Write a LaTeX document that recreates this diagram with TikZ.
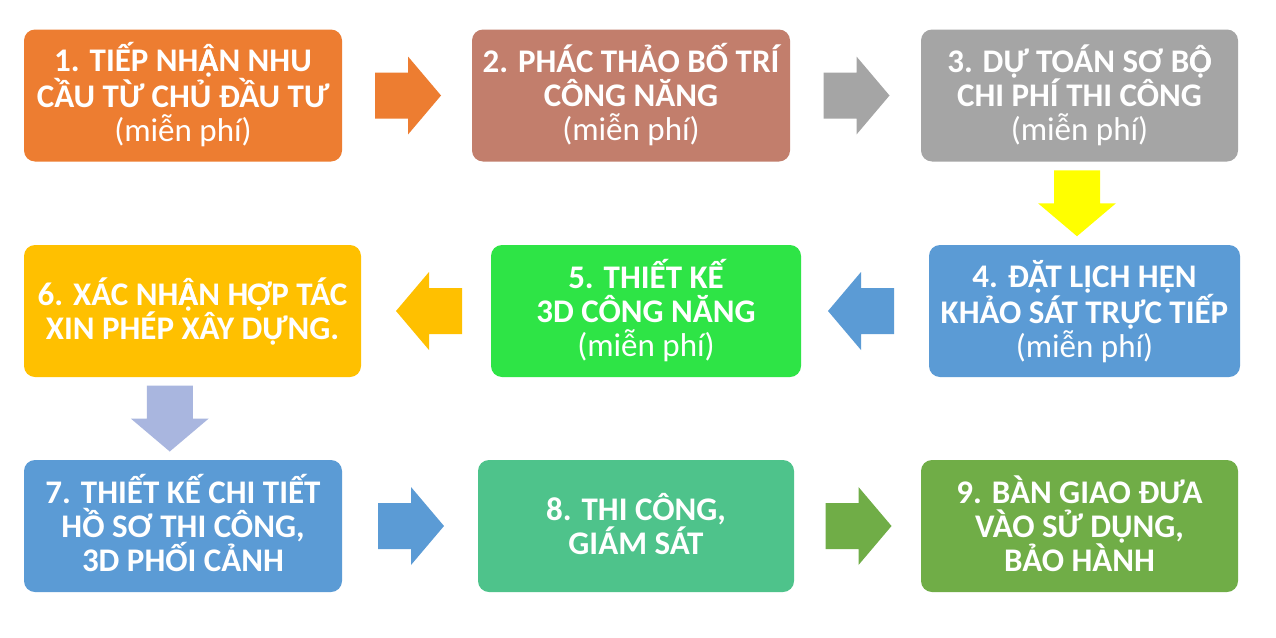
\documentclass[tikz,border=0pt]{standalone}
\usepackage{fontspec}
\setmainfont{Carlito}
\usetikzlibrary{calc}
\definecolor{cOrange}{HTML}{ED7D31}
\definecolor{cRose}{HTML}{C27E6C}
\definecolor{cGray}{HTML}{A5A5A5}
\definecolor{cBlue}{HTML}{5B9BD5}
\definecolor{cLime}{HTML}{2EE446}
\definecolor{cGold}{HTML}{FFC000}
\definecolor{cMint}{HTML}{4EC38B}
\definecolor{cGreen}{HTML}{70AD47}
\definecolor{cYellow}{HTML}{FFFF00}
\definecolor{cLav}{HTML}{A9B6DF}
\newcommand\blockarrow[3]{%
  \fill[#3, shift={(#1)}, rotate=#2]
    (-33,-23) -- (0,-23) -- (0,-39) -- (33,0) -- (0,39) -- (0,23) -- (-33,23) -- cycle;}
\newcommand\mytopstrut{\rule{0pt}{30pt}}
\newcommand\mybotstrut{\rule[-8pt]{0pt}{8pt}}
\newcommand\mienphi{\mdseries(miễn phí)}
% A/O with circumflex and dot below, stacked by hand
\newcommand\Acd{\rlap{Â}Ạ}
\newcommand\Ocd{\rlap{Ô}Ọ}
\begin{document}
\begin{tikzpicture}[x=1pt,y=-1pt,
  stepbox/.style={rounded corners=11pt, inner sep=0pt, minimum height=132pt,
    text=white, align=center, font=\bfseries\fontsize{33}{34}\selectfont}]
\useasboundingbox (0,0) rectangle (1276,637);
\fill[white] (0,0) rectangle (1276,637);
% row 1
\node[stepbox, fill=cOrange, minimum width=318pt] (b1) at (183,95.5)
  {\mytopstrut 1. TIẾP NH\Acd N NHU\\CẦU TỪ CHỦ ĐẦU TƯ\\\mienphi\mybotstrut};
\node[stepbox, fill=cRose, minimum width=318pt] (b2) at (631,95.5)
  {\mytopstrut 2. PHÁC THẢO BỐ TRÍ\\CÔNG NĂNG\\\mienphi\mybotstrut};
\node[stepbox, fill=cGray, minimum width=317pt] (b3) at (1079.5,95.5)
  {\mytopstrut 3. DỰ TOÁN SƠ B\Ocd\\CHI PHÍ THI CÔNG\\\mienphi\mybotstrut};
% row 2
\node[stepbox, fill=cBlue, minimum width=311pt] (b4) at (1084.5,311)
  {\mytopstrut 4. ĐẶT LỊCH HẸN\\KHẢO SÁT TRỰC TIẾP\\\mienphi\mybotstrut};
\node[stepbox, fill=cLime, minimum width=310pt] (b5) at (646,311)
  {\mytopstrut 5. THIẾT KẾ\\3D CÔNG NĂNG\\\mienphi\mybotstrut};
\node[stepbox, fill=cGold, minimum width=337pt] (b6) at (192.5,311)
  {\mytopstrut 6. XÁC NH\Acd N HỢP TÁC\\XIN PHÉP XÂY DỰNG.\mybotstrut};
% row 3
\node[stepbox, fill=cBlue, minimum width=318pt] (b7) at (183,526)
  {\mytopstrut 7. THIẾT KẾ CHI TIẾT\\HỒ SƠ THI CÔNG,\\3D PHỐI CẢNH\mybotstrut};
\node[stepbox, fill=cMint, minimum width=316pt] (b8) at (636,526)
  {\mytopstrut 8. THI CÔNG,\\GIÁM SÁT\mybotstrut};
\node[stepbox, fill=cGreen, minimum width=317pt] (b9) at (1079.5,526)
  {\mytopstrut 9. BÀN GIAO ĐƯA\\VÀO SỬ DỤNG,\\BẢO HÀNH\mybotstrut};
% arrow anchors
\coordinate (a12) at ($(b1.east)!0.5!(b2.west)+(1,0)$);
\coordinate (a23) at ($(b2.east)!0.5!(b3.west)+(1,0)$);
\coordinate (a34) at ($(b3.south)!0.5!(b4.north)+(-5,0)$);
\coordinate (a45) at ($(b4.west)!0.5!(b5.east)+(-4,0)$);
\coordinate (a56) at ($(b5.west)!0.5!(b6.east)+(3,0)$);
\coordinate (a67) at ($(b6.south)!0.5!(b7.north)+(-18,0)$);
\coordinate (a78) at ($(b7.east)!0.5!(b8.west)+(1,0)$);
\coordinate (a89) at ($(b8.east)!0.5!(b9.west)+(1,0)$);
\blockarrow{a12}{0}{cOrange}
\blockarrow{a23}{0}{cGray}
\blockarrow{a34}{-90}{cYellow}
\blockarrow{a45}{180}{cBlue}
\blockarrow{a56}{180}{cGold}
\blockarrow{a67}{-90}{cLav}
\blockarrow{a78}{0}{cBlue}
\blockarrow{a89}{0}{cGreen}
\end{tikzpicture}
\end{document}
